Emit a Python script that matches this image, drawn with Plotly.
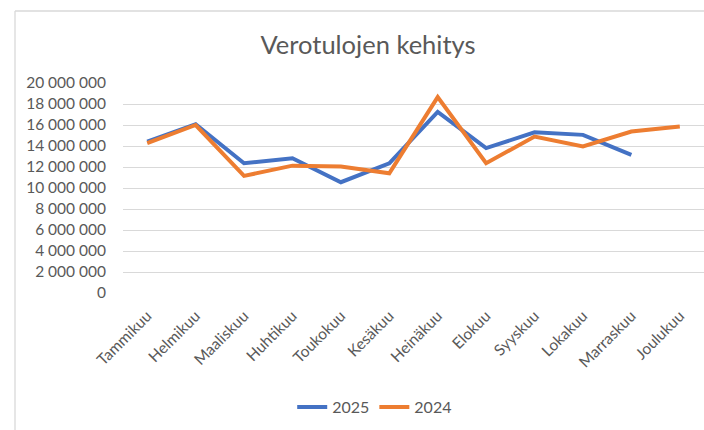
import plotly.graph_objects as go

months = ["Tammikuu", "Helmikuu", "Maaliskuu", "Huhtikuu", "Toukokuu", "Kesäkuu",
          "Heinäkuu", "Elokuu", "Syyskuu", "Lokakuu", "Marraskuu", "Joulukuu"]
values_2025 = [14420000, 16080000, 12360000, 12840000, 10550000, 12350000,
               17250000, 13800000, 15300000, 15060000, 13150000, None]
values_2024 = [14270000, 16000000, 11150000, 12130000, 12040000, 11400000,
               18660000, 12360000, 14900000, 13950000, 15380000, 15860000]
ytick_vals = list(range(0, 20000001, 2000000))
ytick_text = ["0", "2 000 000", "4 000 000", "6 000 000", "8 000 000", "10 000 000",
              "12 000 000", "14 000 000", "16 000 000", "18 000 000", "20 000 000"]

FONT = "Lato"
GRAY = "#595959"

fig = go.Figure()
fig.add_trace(go.Scatter(x=months, y=values_2025, name="2025", mode="lines",
                         line=dict(color="#4472C4", width=4)))
fig.add_trace(go.Scatter(x=months, y=values_2024, name="2024", mode="lines",
                         line=dict(color="#ED7D31", width=4)))

W, H = 704, 430
ml, mr, mt, mb = 123, 0, 83, 137
pw, ph = W - ml - mr, H - mt - mb

def px_to_paper_x(px):
    return (px - ml) / pw

def px_to_paper_y(py):
    return (H - mb - py) / ph

fig.update_layout(
    width=W, height=H,
    margin=dict(l=ml, r=mr, t=mt, b=mb),
    paper_bgcolor="white", plot_bgcolor="white",
    font=dict(family=FONT, color=GRAY),
    title=dict(text="Verotulojen kehitys", x=368 / W, xanchor="center",
               y=1 - 45 / H, yanchor="middle",
               font=dict(family=FONT, size=25.5, color=GRAY)),
    xaxis=dict(type="category", range=[-0.5, 11.5], tickangle=-45,
               showgrid=False, zeroline=False, showline=False,
               ticks="", ticklabelstandoff=10,
               tickfont=dict(size=15.5, color=GRAY, family=FONT)),
    yaxis=dict(range=[0, 20000000], tickvals=ytick_vals, ticktext=ytick_text,
               showgrid=True, gridcolor="#D9D9D9", gridwidth=1.3,
               zeroline=False, showline=False, ticks="",
               ticklabelstandoff=16,
               tickfont=dict(size=15.5, color=GRAY, family=FONT)),
    legend=dict(orientation="h", x=305 / W, xanchor="center",
                y=px_to_paper_y(407), yanchor="middle",
                font=dict(size=16, color=GRAY, family=FONT),
                bgcolor="rgba(0,0,0,0)"),
    shapes=[
        dict(type="line", xref="paper", yref="paper",
             x0=px_to_paper_x(15), x1=px_to_paper_x(15),
             y0=px_to_paper_y(11), y1=px_to_paper_y(440),
             line=dict(color="#D9D9D9", width=1.3)),
        dict(type="line", xref="paper", yref="paper",
             x0=px_to_paper_x(15), x1=px_to_paper_x(710),
             y0=px_to_paper_y(11), y1=px_to_paper_y(11),
             line=dict(color="#D9D9D9", width=1.3)),
    ],
)

fig.write_html("out.html", config={"displayModeBar": False},
               post_script="document.body.style.margin='0';document.body.style.overflow='hidden';")
